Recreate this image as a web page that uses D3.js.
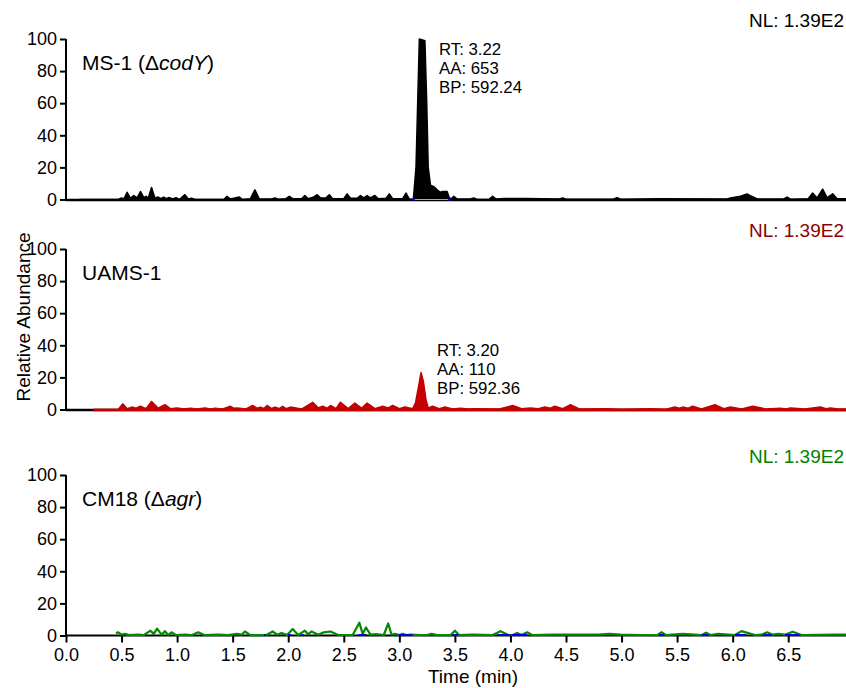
<!DOCTYPE html>
<html>
<head>
<meta charset="utf-8">
<script src="https://cdn.jsdelivr.net/npm/d3@7"></script>
<style>
  body { margin: 0; background: #fff; }
  text { font-family: "Liberation Sans", Arial, sans-serif; }
</style>
</head>
<body>
<div id="chart"></div>
<script>
// ---- data ----
var xTicks = [0, 0.5, 1, 1.5, 2, 2.5, 3, 3.5, 4, 4.5, 5, 5.5, 6, 6.5];
var yTicks = [0, 20, 40, 60, 80, 100];

// MS-1 (codY) trace
var ms1Time = [0.12, 0.47, 0.50, 0.52, 0.55, 0.58, 0.61, 0.64, 0.67, 0.70, 0.72, 0.74, 0.77, 0.80, 0.83, 0.85, 0.88, 0.90, 0.93, 0.96, 0.99, 1.02,
  1.07, 1.10, 1.13, 1.16, 1.42, 1.45, 1.48, 1.56, 1.59, 1.66, 1.70, 1.74, 1.85, 1.88, 1.91, 1.98, 2.01, 2.04, 2.12, 2.15, 2.18, 2.23, 2.26, 2.29,
  2.34, 2.37, 2.40, 2.50, 2.53, 2.56, 2.62, 2.65, 2.68, 2.71, 2.74, 2.78, 2.81, 2.88, 2.91, 2.94, 3.03, 3.06, 3.09, 3.126, 3.15, 3.165, 3.18,
  3.23, 3.246, 3.26, 3.28, 3.31, 3.34, 3.37, 3.39, 3.43, 3.45, 3.47, 3.49, 3.52, 3.64, 3.67, 3.70, 3.81, 3.84, 3.87, 3.95, 4.13, 4.44, 4.47,
  4.50, 4.93, 4.96, 4.99, 5.35, 5.95, 5.98, 6.07, 6.13, 6.17, 6.22, 6.46, 6.49, 6.52, 6.68, 6.72, 6.76, 6.81, 6.85, 6.90, 6.94, 7.02];
var ms1Value = [0, 0, 1, 0.3, 4.5, 0.8, 2.5, 1, 5, 1.2, 2, 0.8, 7.5, 1, 1.5, 0.5, 1.5, 0.5, 1.2, 0.3, 1.2, 0,
  3, 0.3, 0.8, 0, 0, 2, 0.3, 1.5, 0, 0.5, 6, 0.3, 0.3, 1, 0.2, 0.5, 2, 0.5, 0.5, 2.5, 0.5, 1.5, 3, 1,
  1, 3, 0.5, 0.5, 3.5, 0.8, 0.8, 2.5, 1, 2.5, 1, 2.5, 0.5, 0.8, 3.5, 0.5, 0.5, 4, 0.3, 0, 20, 60, 100,
  99, 62, 20, 9, 8, 6, 4.5, 5, 5, 1, 0.5, 2, 0.3, 0.3, 1, 0, 0.2, 2, 0.3, 0.7, 0.7, 0.3, 1,
  0.2, 0.3, 1.2, 0.2, 0.5, 0.3, 1, 2, 3.5, 2, 0.3, 0.3, 1.5, 0.2, 0.5, 4, 1, 6.5, 1, 3.5, 0.5, 0.5];

// UAMS-1 trace
var uamsTime = [0.25, 0.47, 0.51, 0.55, 0.60, 0.63, 0.67, 0.72, 0.77, 0.83, 0.89, 0.94, 1.00, 1.06, 1.12, 1.18, 1.25, 1.30, 1.34, 1.41,
  1.48, 1.51, 1.54, 1.62, 1.68, 1.72, 1.75, 1.78, 1.81, 1.85, 1.88, 1.92, 1.95, 1.98, 2.02, 2.12, 2.22, 2.27, 2.31, 2.35, 2.38, 2.43,
  2.47, 2.54, 2.60, 2.66, 2.71, 2.78, 2.85, 2.90, 2.94, 3.00, 3.05, 3.12, 3.145, 3.175, 3.195, 3.215, 3.24, 3.26, 3.30, 3.36, 3.41, 3.48,
  3.55, 3.62, 3.68, 3.90, 4.02, 4.10, 4.18, 4.25, 4.31, 4.36, 4.40, 4.47, 4.54, 4.62, 4.85, 5.00, 5.26, 5.40, 5.48, 5.52, 5.55, 5.60,
  5.64, 5.72, 5.84, 5.92, 5.98, 6.08, 6.18, 6.30, 6.43, 6.48, 6.52, 6.65, 6.79, 6.84, 6.88, 6.95, 7.02];
var uamsValue = [0, 0, 3.5, 0.5, 1.5, 0.8, 2, 0.5, 5, 0.8, 3, 0.5, 1, 0.3, 0.8, 0.3, 1, 0.3, 0.8, 0.3,
  2, 0.8, 1, 0.3, 2.5, 0.8, 1.5, 0.6, 2.5, 0.6, 1.5, 0.6, 2, 0.5, 1.5, 0.3, 4.5, 1, 2, 0.8, 2.5, 0.5,
  4.5, 0.5, 4, 0.8, 4, 0.5, 2, 1, 2.5, 0.5, 1.5, 0.5, 4, 15, 23, 18, 6, 1, 2, 0.5, 1.5, 0.3,
  0.8, 0.3, 0.5, 0.3, 2.5, 0.5, 1, 0.5, 1.5, 0.8, 2, 0.5, 3, 0.3, 0.5, 0.2, 0.5, 0.2, 1.5, 0.8, 1.5, 0.8,
  2, 0.3, 3, 0.5, 1.5, 0.3, 2, 0.3, 0.8, 0.3, 1, 0.3, 1.5, 0.5, 1, 0.3, 0.3];

// CM18 (agr) trace
var cmTime = [0.45, 0.47, 0.50, 0.53, 0.57, 0.65, 0.70, 0.76, 0.79, 0.82, 0.86, 0.89, 0.92, 0.95, 0.99, 1.07, 1.13, 1.19, 1.25, 1.37,
  1.46, 1.54, 1.58, 1.61, 1.66, 1.80, 1.86, 1.90, 1.94, 1.99, 2.04, 2.09, 2.15, 2.18, 2.21, 2.27, 2.32, 2.38, 2.45, 2.58, 2.64, 2.67,
  2.70, 2.74, 2.79, 2.86, 2.90, 2.93, 2.96, 3.00, 3.03, 3.06, 3.10, 3.19, 3.25, 3.29, 3.34, 3.46, 3.50, 3.54, 3.66, 3.84, 3.91, 3.98,
  4.02, 4.06, 4.10, 4.15, 4.20, 4.38, 4.49, 4.79, 4.89, 4.99, 5.18, 5.32, 5.36, 5.40, 5.55, 5.66, 5.72, 5.76, 5.80, 5.87, 6.02, 6.08,
  6.14, 6.20, 6.26, 6.31, 6.36, 6.41, 6.47, 6.54, 6.62, 6.94, 6.98, 7.02];
var cmValue = [1.5, 2, 0.5, 1, 0.2, 0.5, 0.2, 3, 1, 4.3, 0.5, 2.7, 0.3, 2, 0.2, 0.5, 0.2, 2, 0.2, 0.5,
  0.2, 1, 0.5, 2.5, 0.2, 0.2, 2.5, 0.5, 1.5, 0.3, 4, 0.3, 3, 0.8, 2.5, 0.5, 2, 2.5, 0.3, 0.3, 8, 1,
  5, 0.5, 0.8, 0.3, 7.5, 0.5, 1, 0.3, 1, 0.3, 0.5, 0.3, 0.2, 1, 0.2, 0.2, 3, 0.2, 0.5, 0.3, 2.7, 0.3,
  0.3, 1.5, 0.3, 2, 0.2, 0.5, 0.5, 0.5, 1, 0.5, 0.3, 0.2, 2, 0.2, 1, 0.5, 0.2, 1.8, 0.3, 1, 0.3, 2.7,
  1.5, 0.3, 0.5, 2, 0.5, 1, 0.5, 2.3, 0.3, 0.5, 0.5, 0.5];

// integration markers (blue) on the CM18 baseline, [start, end] in minutes
var cmMarks = [[1.78, 1.80], [2.00, 2.03], [2.12, 2.14], [2.63, 2.70], [2.99, 3.12], [3.48, 3.53], [3.88, 4.00],
  [4.01, 4.15], [5.34, 5.38], [5.72, 5.78], [6.02, 6.12], [6.28, 6.35], [6.47, 6.60]];
var ms1Marks = [3.126, 3.45];

var panelNames = ["MS-1", "UAMS-1", "CM18"];
var nlLabels = ["NL: 1.39E2", "NL: 1.39E2", "NL: 1.39E2"];
var peakInfo = [["RT: 3.22", "AA: 653", "BP: 592.24"], ["RT: 3.20", "AA: 110", "BP: 592.36"]];

// ---- layout ----
var svgWidth = 846;
var svgHeight = 688;
var left = 66;
var panelTop = [39, 249, 475];
var panelH = 160.5;

var svg = d3.select("#chart")
  .append("svg")
  .attr("width", svgWidth)
  .attr("height", svgHeight);

var x = d3.scaleLinear().domain([0, 7.02]).range([left, svgWidth]);

function makeY(i) {
  return d3.scaleLinear().domain([0, 100]).range([panelTop[i] + panelH, panelTop[i]]);
}

function yAxis(g, y) {
  g.attr("transform", "translate(" + left + ",0)")
    .call(d3.axisLeft(y).tickValues(yTicks).tickSize(6).tickPadding(3).tickFormat(d3.format("d")))
    .call(g => g.select(".domain").attr("d", "M0," + y(100) + "V" + y(0)))
    .call(g => g.selectAll("line, path").attr("stroke", "#000").attr("stroke-width", 2))
    .call(g => g.selectAll("text").attr("font-size", 18).attr("font-family", "Liberation Sans, Arial, sans-serif").attr("fill", "#000"));
}

function series(t, v) {
  return t.map((d, i) => ({t: d, v: v[i]}));
}

var titleColors = ["#000", "#8b0000", "#008000"];

// ---------- panel 1: MS-1 ----------
var y1 = makeY(0);
var g1 = svg.append("g");
g1.append("path")
  .datum(series(ms1Time, ms1Value))
  .attr("fill", "#000")
  .attr("stroke", "#000")
  .attr("stroke-width", 1.5)
  .attr("stroke-linejoin", "round")
  .attr("d", d3.area().x(d => x(d.t)).y0(y1(0)).y1(d => y1(d.v)));
g1.append("line")
  .attr("x1", x(0)).attr("x2", svgWidth)
  .attr("y1", y1(0) + 0.5).attr("y2", y1(0) + 0.5)
  .attr("stroke", "#000").attr("stroke-width", 2.5);
g1.append("line")
  .attr("x1", x(ms1Marks[0])).attr("x2", x(ms1Marks[1]))
  .attr("y1", y1(0)).attr("y2", y1(0))
  .attr("stroke", "#aaa").attr("stroke-width", 1.2);
g1.selectAll(".mk")
  .data(ms1Marks)
  .enter()
  .append("line")
  .attr("x1", d => x(d) - 1.5).attr("x2", d => x(d) + 1.5)
  .attr("y1", y1(0)).attr("y2", y1(0))
  .attr("stroke", "#0000ff").attr("stroke-width", 2);
yAxis(g1.append("g"), y1);

// ---------- panel 2: UAMS-1 ----------
var y2 = makeY(1);
var g2 = svg.append("g");
g2.append("line")
  .attr("x1", x(0)).attr("x2", svgWidth)
  .attr("y1", y2(0) + 0.5).attr("y2", y2(0) + 0.5)
  .attr("stroke", "#000").attr("stroke-width", 2.5);
g2.append("path")
  .datum(series(uamsTime, uamsValue))
  .attr("fill", "#c40000")
  .attr("stroke", "#c40000")
  .attr("stroke-width", 1.5)
  .attr("stroke-linejoin", "round")
  .attr("d", d3.area().x(d => x(d.t)).y0(y2(0)).y1(d => y2(d.v)));
g2.append("line")
  .attr("x1", x(uamsTime[0])).attr("x2", svgWidth)
  .attr("y1", y2(0) + 0.5).attr("y2", y2(0) + 0.5)
  .attr("stroke", "#c40000").attr("stroke-width", 2.5);
yAxis(g2.append("g"), y2);

// ---------- panel 3: CM18 ----------
var y3 = makeY(2);
var g3 = svg.append("g");
g3.append("g")
  .attr("transform", "translate(0," + y3(0) + ")")
  .call(d3.axisBottom(x).tickValues(xTicks).tickSize(7).tickPadding(6).tickFormat(d3.format(".1f")))
  .call(g => g.select(".domain").attr("d", "M" + left + ",0H" + svgWidth))
  .call(g => g.selectAll("line, path").attr("stroke", "#000").attr("stroke-width", 2))
  .call(g => g.selectAll("text").attr("font-size", 18).attr("font-family", "Liberation Sans, Arial, sans-serif").attr("fill", "#000"));
g3.append("path")
  .datum(series(cmTime, cmValue))
  .attr("fill", "none")
  .attr("stroke", "#008a00")
  .attr("stroke-width", 2.2)
  .attr("stroke-linejoin", "round")
  .attr("d", d3.line().x(d => x(d.t)).y(d => y3(d.v)));
g3.selectAll(".mk")
  .data(cmMarks)
  .enter()
  .append("line")
  .attr("x1", d => x(d[0])).attr("x2", d => x(d[1]))
  .attr("y1", y3(0) - 0.5).attr("y2", y3(0) - 0.5)
  .attr("stroke", "#0000ee").attr("stroke-width", 2);
yAxis(g3.append("g"), y3);

// ---------- labels ----------
var titleFont = "Lato, 'Open Sans', sans-serif";
panelNames.forEach(function(name, i) {
  var t = svg.append("text")
    .attr("x", 82)
    .attr("y", panelTop[i] + 31)
    .attr("font-family", titleFont)
    .attr("font-size", 21)
    .attr("fill", "#000")
    .text(name);
  if (i == 0) {
    t.append("tspan").text(" (\u0394");
    t.append("tspan").attr("font-style", "italic").text("codY");
    t.append("tspan").text(")");
  }
  if (i == 2) {
    t.append("tspan").text(" (\u0394");
    t.append("tspan").attr("font-style", "italic").text("agr");
    t.append("tspan").text(")");
  }
  svg.append("text")
    .attr("x", 844)
    .attr("y", panelTop[i] - 12)
    .attr("text-anchor", "end")
    .attr("font-size", 19)
    .attr("fill", titleColors[i])
    .text(nlLabels[i]);
});

// peak annotations (middle line fixed, tight line spacing)
var annX = [439, 437];
var annMid = [74, 375];
peakInfo.forEach(function(lines, i) {
  svg.append("g").selectAll("text")
    .data(lines)
    .enter()
    .append("text")
    .attr("x", annX[i])
    .attr("y", (d, j) => annMid[i] + (j - 1) * 18.8)
    .attr("font-size", 16.8)
    .attr("fill", "#000")
    .text(d => d);
});

svg.append("text")
  .attr("transform", "translate(30,317) rotate(-90)")
  .attr("text-anchor", "middle")
  .attr("font-size", 19)
  .text("Relative Abundance");

svg.append("text")
  .attr("x", 473)
  .attr("y", 683)
  .attr("text-anchor", "middle")
  .attr("font-size", 19)
  .text("Time (min)");
</script>
</body>
</html>
